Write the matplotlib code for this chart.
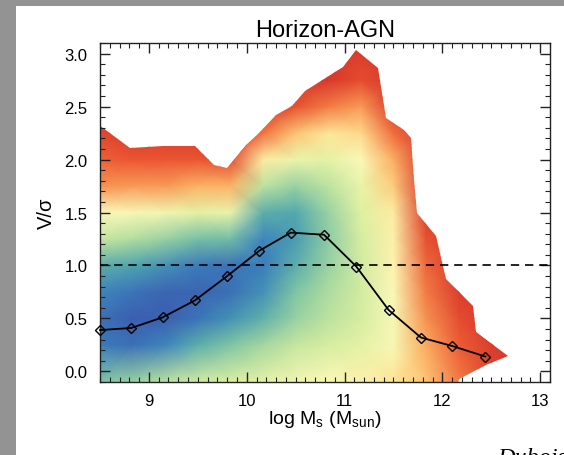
import numpy as np
import matplotlib
matplotlib.use("Agg")
import matplotlib.pyplot as plt
from matplotlib.colors import LinearSegmentedColormap
from matplotlib.patches import Polygon, Rectangle
from matplotlib.ticker import MultipleLocator, FormatStrFormatter

plt.rcParams['font.family'] = ['Liberation Sans', 'DejaVu Sans']

# mean V/sigma per stellar mass bin
mass_bins = [8.50, 8.82, 9.14, 9.47, 9.80, 10.13, 10.45, 10.79, 11.12, 11.45, 11.78, 12.10, 12.44]
mean_vsig = [0.39, 0.41, 0.51, 0.67, 0.90, 1.14, 1.31, 1.29, 0.99, 0.58, 0.32, 0.24, 0.14]

# outline of the populated region (upper edge, then down the right side)
env_mass = [8.30, 8.49, 8.81, 9.14, 9.47, 9.67, 9.80, 9.99, 10.13, 10.30, 10.46, 10.60, 10.79,
            10.98, 11.12, 11.34, 11.42, 11.61, 11.68, 11.71, 11.74, 11.93, 12.04, 12.24,
            12.31, 12.34, 12.67, 12.45, 12.17, 12.10, 8.30]
env_vsig = [2.33, 2.33, 2.11, 2.13, 2.13, 1.95, 1.92, 2.14, 2.25, 2.42, 2.51, 2.65, 2.76,
            2.87, 3.03, 2.86, 2.39, 2.28, 2.20, 1.81, 1.50, 1.28, 0.87, 0.68,
            0.62, 0.37, 0.15, 0.06, -0.07, -0.30, -0.30]

# density level (0 = red edge, 1 = dark blue peak)
grid_mass = [8.50, 8.83, 9.17, 9.50, 9.83, 10.17, 10.50, 10.83, 11.17, 11.50, 11.83, 12.17, 12.50, 12.83]
grid_vsig = [-0.1, 0.25, 0.5, 0.75, 1.0, 1.25, 1.5, 1.75, 2.0, 2.25, 2.5, 2.75, 3.1]
level_by_mass = [
    [0.80, 0.94, 0.96, 0.92, 0.85, 0.68, 0.55, 0.28, 0.15, 0.06, 0, 0, 0],
    [0.76, 0.96, 0.99, 0.95, 0.87, 0.72, 0.56, 0.30, 0.12, 0, 0, 0, 0],
    [0.70, 0.92, 0.99, 0.98, 0.90, 0.76, 0.58, 0.30, 0.12, 0, 0, 0, 0],
    [0.66, 0.85, 0.95, 0.98, 0.94, 0.81, 0.62, 0.36, 0.12, 0, 0, 0, 0],
    [0.64, 0.80, 0.90, 0.96, 0.95, 0.82, 0.60, 0.36, 0.08, 0, 0, 0, 0],
    [0.62, 0.74, 0.84, 0.90, 0.93, 0.92, 0.85, 0.70, 0.50, 0.20, 0, 0, 0],
    [0.58, 0.68, 0.76, 0.80, 0.85, 0.88, 0.86, 0.76, 0.60, 0.40, 0.10, 0, 0],
    [0.55, 0.65, 0.70, 0.73, 0.76, 0.78, 0.76, 0.70, 0.62, 0.48, 0.22, 0, 0],
    [0.52, 0.62, 0.65, 0.66, 0.66, 0.65, 0.63, 0.60, 0.55, 0.45, 0.30, 0.08, 0],
    [0.48, 0.56, 0.56, 0.55, 0.53, 0.52, 0.50, 0.42, 0.35, 0.18, 0.02, 0, 0],
    [0.40, 0.34, 0.28, 0.22, 0.17, 0.10, 0.03, 0, 0, 0, 0, 0, 0],
    [0.22, 0.14, 0.08, 0.02, 0, 0, 0, 0, 0, 0, 0, 0, 0],
    [0.05, 0.02, 0, 0, 0, 0, 0, 0, 0, 0, 0, 0, 0],
    [0, 0, 0, 0, 0, 0, 0, 0, 0, 0, 0, 0, 0],
]

cmap = LinearSegmentedColormap.from_list('vsig', [
    (0.00, '#d8392b'), (0.12, '#ea5733'), (0.25, '#f6864a'), (0.38, '#fcbb6b'),
    (0.48, '#fee698'), (0.55, '#fbf8b8'), (0.63, '#e0f1a2'), (0.72, '#b3de9f'),
    (0.80, '#7ec5a4'), (0.87, '#4fa5ae'), (0.93, '#3b80bd'), (1.00, '#3b5bae')])

fig = plt.figure(figsize=(5.64, 4.56), dpi=100, facecolor='#939393')
# white page area (grey border on the left and top)
fig.patches.append(Rectangle((16 / 564, 0), 1, 1 - 7 / 456, transform=fig.transFigure,
                             facecolor='white', edgecolor='none', zorder=-1))

ax = fig.add_axes([100 / 564, 1 - 383 / 456, 450 / 564, 339 / 456])
ax.set_zorder(2)
ax.set_facecolor('white')

X, Y = np.meshgrid(grid_mass, grid_vsig)
Z = np.array(level_by_mass).T
mesh = ax.pcolormesh(X, Y, Z, shading='gouraud', cmap=cmap, vmin=0, vmax=1, zorder=1)
outline = Polygon(np.column_stack([env_mass, env_vsig]), closed=True, transform=ax.transData)
mesh.set_clip_path(outline)

ax.axhline(1.0, color='black', lw=1.2, ls=(0, (5, 3.5)), zorder=3)
ax.plot(mass_bins, mean_vsig, color='black', lw=1.3, marker='D', ms=5,
        mfc='none', mec='black', mew=1.0, zorder=4, clip_on=False)

ax.set_xlim(8.5, 13.1)
ax.set_ylim(-0.1, 3.1)
ax.xaxis.set_major_locator(MultipleLocator(1))
ax.xaxis.set_minor_locator(MultipleLocator(0.1))
ax.yaxis.set_major_locator(MultipleLocator(0.5))
ax.yaxis.set_minor_locator(MultipleLocator(0.1))
ax.yaxis.set_major_formatter(FormatStrFormatter('%.1f'))
ax.tick_params(which='both', direction='in', top=True, right=True, color='#222222')
ax.tick_params(which='major', length=7, width=1.0, labelsize=12)
ax.tick_params(axis='x', which='major', pad=8)
ax.tick_params(axis='y', which='major', pad=9)
ax.tick_params(which='minor', length=3.5, width=0.8)
for sp in ax.spines.values():
    sp.set_linewidth(1.0)
    sp.set_color('#222222')

ax.set_title('Horizon-AGN', fontsize=17, pad=5)
ax.set_xlabel(r'log M$_\mathregular{s}$ (M$_\mathregular{sun}$)', fontsize=14, labelpad=0)
ax.set_ylabel('V/σ', fontsize=14.5, labelpad=6)

# caption from the page, cut off by the lower edge as in the screenshot
fig.text(497 / 564, -0.0185, 'Dubois', family='Liberation Serif', style='italic',
         fontsize=17.5, va='baseline', ha='left')

fig.savefig('out.png', dpi=100, facecolor=fig.get_facecolor())
